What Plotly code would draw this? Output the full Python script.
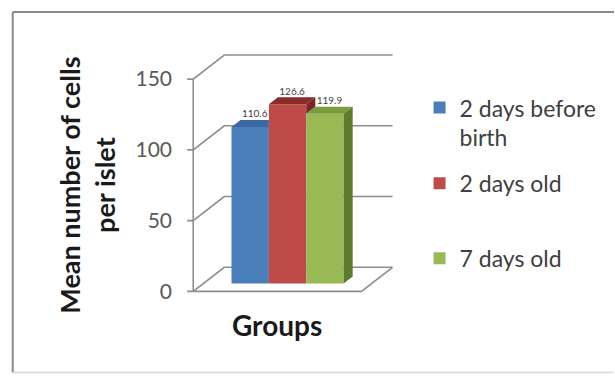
import plotly.graph_objects as go

# ---------------- data ----------------
series = ["2 days before<br>birth", "2 days old", "7 days old"]
values = [110.6, 126.6, 119.9]
value_labels = ["110.6", "126.6", "119.9"]
y_ticks = [0, 50, 100, 150]
y_title = "Mean number of cells<br>per islet"
x_title = "Groups"

front_colors = ["#4a7ebb", "#be4b48", "#98b954"]
top_colors = ["#3b67a2", "#8a2c2a", "#7b9b3e"]
side_colors = ["#345b90", "#7a2624", "#5e7c2c"]

# ---------------- 3-D geometry (axis units) ----------------
PX_X = 37.5          # px per x unit
PX_Y = 1.413         # px per y unit
AX_X_PX, AX_Y0_PX = 193, 291   # pixel position of front axis origin
XMIN, XMAX = -0.3, 5.45
YMIN, YMAX = -4.0, (291 - 54) / 1.413
FLOOR_W = 4.5
DX, DY = 0.83, 17.0  # depth vector
BAR_T = 0.33         # bar position along depth
BAR_D = 0.29         # bar depth (fraction of depth)
TICK = 0.16
bdx, bdy = DX * BAR_D, DY * BAR_D
base = DY * BAR_T
x_start = (FLOOR_W - len(values)) / 2 + DX * BAR_T

L = AX_X_PX + XMIN * PX_X
W_PLOT = (XMAX - XMIN) * PX_X
R = 615 - L - W_PLOT
T = AX_Y0_PX - YMAX * PX_Y
BOT_PX = AX_Y0_PX - YMIN * PX_Y
B = 376 - BOT_PX
H_PLOT = BOT_PX - T


def px2paper(px, py):
    return (px - L) / W_PLOT, (BOT_PX - py) / H_PLOT


FONT = "Lato, 'Open Sans', sans-serif"
GRID = "#8d8d8d"

fig = go.Figure()
legend_names = ["legend", "legend2", "legend3"]

# front faces
for i, (name, v) in enumerate(zip(series, values)):
    fig.add_trace(go.Bar(
        x=[x_start + i + 0.5], y=[v], base=base, width=1,
        marker=dict(color=front_colors[i], line=dict(width=0)),
        name=name, legend=legend_names[i], hoverinfo="skip",
    ))

# top and side faces
for i, v in enumerate(values):
    x0, x1 = x_start + i, x_start + i + 1
    h = base + v
    nxt = values[i + 1] if i + 1 < len(values) else None
    back_right = x1 if (nxt is not None and nxt > v) else x1 + bdx
    fig.add_trace(go.Scatter(
        x=[x0, x0 + bdx, back_right, x1, x0], y=[h, h + bdy, h + bdy, h, h],
        fill="toself", fillcolor=top_colors[i], mode="lines",
        line=dict(width=0, color=top_colors[i]), showlegend=False, hoverinfo="skip"))
    if nxt is None or nxt < v:
        low = base + (nxt if nxt is not None else 0)
        fig.add_trace(go.Scatter(
            x=[x1, x1 + bdx, x1 + bdx, x1, x1], y=[low, low + bdy, h + bdy, h, low],
            fill="toself", fillcolor=side_colors[i], mode="lines",
            line=dict(width=0, color=side_colors[i]), showlegend=False, hoverinfo="skip"))

# value labels
fig.add_trace(go.Scatter(
    x=[x_start + i + 0.5 + bdx / 2 for i in range(len(values))],
    y=[base + v + bdy for v in values],
    mode="text", text=value_labels, textposition="top center",
    textfont=dict(family=FONT, size=10, color="#404040"),
    showlegend=False, hoverinfo="skip"))

shapes = []
# walls / gridlines with ticks
for v in y_ticks:
    shapes.append(dict(
        type="path", xref="x", yref="y", layer="below",
        path=f"M {-TICK},{v} L 0,{v} L {DX},{v + DY} L {FLOOR_W + DX},{v + DY}",
        line=dict(color=GRID, width=1.6)))
# floor front and right edges
shapes.append(dict(type="path", xref="x", yref="y", layer="below",
                   path=f"M 0,0 L {FLOOR_W},0 L {FLOOR_W + DX},{DY}",
                   line=dict(color=GRID, width=1.6)))
# vertical axis line
shapes.append(dict(type="line", xref="x", yref="y", layer="below",
                   x0=0, x1=0, y0=0, y1=max(y_ticks),
                   line=dict(color=GRID, width=1.6)))
# outer frame (left and top edges visible, bottom faint)
fx0, fy0 = px2paper(12, 372)
fx1, fy1 = px2paper(615, 12)
shapes.append(dict(type="line", xref="paper", yref="paper", layer="below",
                   x0=fx0, y0=fy0, x1=fx0, y1=fy1, line=dict(color="#8a8a8a", width=2)))
shapes.append(dict(type="line", xref="paper", yref="paper", layer="below",
                   x0=fx0, y0=fy1, x1=fx1, y1=fy1, line=dict(color="#8a8a8a", width=2)))
shapes.append(dict(type="line", xref="paper", yref="paper", layer="below",
                   x0=fx0, y0=fy0, x1=fx1, y1=fy0, line=dict(color="#d8d8d8", width=1.5)))

ax, ay = px2paper(87, 185)
gx, gy = px2paper(277, 325)
annotations = [
    dict(text=f"<b>{y_title}</b>", x=ax, y=ay, xref="paper", yref="paper",
         textangle=-90, showarrow=False, xanchor="center", yanchor="middle",
         font=dict(family=FONT, size=27, color="#1a1a1a")),
    dict(text=f"<b>{x_title}</b>", x=gx, y=gy, xref="paper", yref="paper",
         showarrow=False, xanchor="center", yanchor="middle",
         font=dict(family=FONT, size=28, color="#1a1a1a")),
]

leg_font = dict(family=FONT, size=23, color="#404040")
lx, _ = px2paper(420, 0)
_, l1y = px2paper(0, 122.5)
_, l2y = px2paper(0, 183)
_, l3y = px2paper(0, 258)
common = dict(x=lx, xanchor="left", yanchor="middle", font=leg_font,
              bgcolor="rgba(0,0,0,0)", borderwidth=0, valign="top", itemwidth=30)

fig.update_layout(
    width=615, height=376,
    margin=dict(l=L, r=R, t=T, b=B, pad=0),
    paper_bgcolor="white", plot_bgcolor="rgba(0,0,0,0)",
    barmode="overlay",
    showlegend=True,
    legend=dict(y=l1y, **common),
    legend2=dict(y=l2y, **common),
    legend3=dict(y=l3y, **common),
    xaxis=dict(range=[XMIN, XMAX], visible=False, fixedrange=True),
    yaxis=dict(range=[YMIN, YMAX], tickvals=y_ticks, ticks="", showgrid=False,
               zeroline=False, showline=False, ticklabelstandoff=9,
               tickfont=dict(family=FONT, size=21, color="#595959"), fixedrange=True),
    shapes=shapes,
    annotations=annotations,
)

fig.write_html("out.html")
